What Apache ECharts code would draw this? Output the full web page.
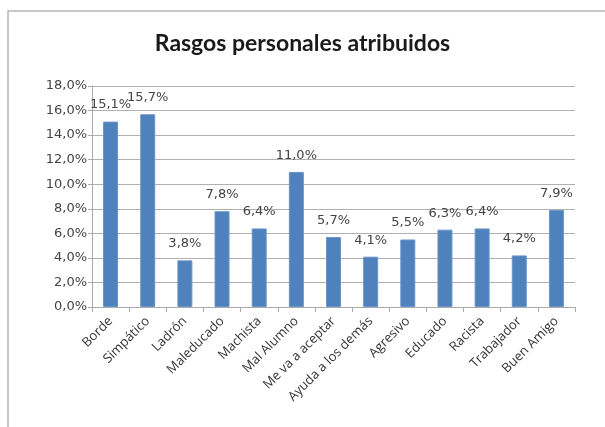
<!DOCTYPE html>
<html>
<head>
<meta charset="utf-8">
<script src="https://cdn.jsdelivr.net/npm/echarts@6/dist/echarts.min.js"></script>
<style>
    html, body { margin: 0; padding: 0; background: #fff; }
    #chart { width: 605px; height: 427px; }
</style>
</head>
<body>
<div id="chart"></div>
<script>
    // datos
    var categorias = ['Borde', 'Simpático', 'Ladrón', 'Maleducado', 'Machista', 'Mal Alumno', 'Me va a aceptar',
        'Ayuda a los demás', 'Agresivo', 'Educado', 'Racista', 'Trabajador', 'Buen Amigo'];
    var valores = [15.1, 15.7, 3.8, 7.8, 6.4, 11.0, 5.7, 4.1, 5.5, 6.3, 6.4, 4.2, 7.9];
    var titulo = 'Rasgos personales atribuidos';

    var pct = function (v) {
        return Number(v).toFixed(1).replace('.', ',') + '%';
    };

    var myChart = echarts.init(document.getElementById('chart'));
    var option = {
        animation: false,
        title: {
            text: titulo,
            left: 'center',
            top: 27,
            textStyle: {
                fontFamily: 'Lato',
                fontSize: 23,
                fontWeight: 'bold',
                color: '#1a1a1a'
            }
        },
        graphic: [
            {
                type: 'polyline',
                shape: { points: [[8, 427], [8, 11], [605, 11]] },
                style: { stroke: '#b5b5b5', lineWidth: 1.5, fill: null }
            }
        ],
        grid: {
            left: 92,
            right: 30,
            top: 86,
            bottom: 120
        },
        xAxis: {
            type: 'category',
            data: categorias,
            axisLine: { lineStyle: { color: '#aaa' } },
            axisTick: { show: true, length: 5, lineStyle: { color: '#aaa' } },
            axisLabel: {
                rotate: 45,
                interval: 0,
                margin: 12,
                fontFamily: 'Open Sans',
                fontSize: 13,
                color: '#333'
            }
        },
        yAxis: {
            type: 'value',
            min: 0,
            max: 18,
            interval: 2,
            axisLine: { show: true, lineStyle: { color: '#aaa' } },
            axisTick: { show: true, length: 4, lineStyle: { color: '#aaa' } },
            axisLabel: {
                formatter: pct,
                fontFamily: 'DejaVu Sans',
                fontSize: 13,
                color: '#444',
                margin: 5
            },
            splitLine: { lineStyle: { color: '#b0b0b0' } }
        },
        series: [{
            type: 'bar',
            data: valores,
            barWidth: 15,
            itemStyle: {
                color: '#4f81bd',
                borderColor: '#6a95c9',
                borderWidth: 1
            },
            label: {
                show: true,
                position: 'top',
                distance: 10,
                formatter: function (p) { return pct(p.value); },
                fontFamily: 'DejaVu Sans',
                fontSize: 13,
                color: '#444'
            }
        }]
    };
    myChart.setOption(option);
</script>
</body>
</html>
